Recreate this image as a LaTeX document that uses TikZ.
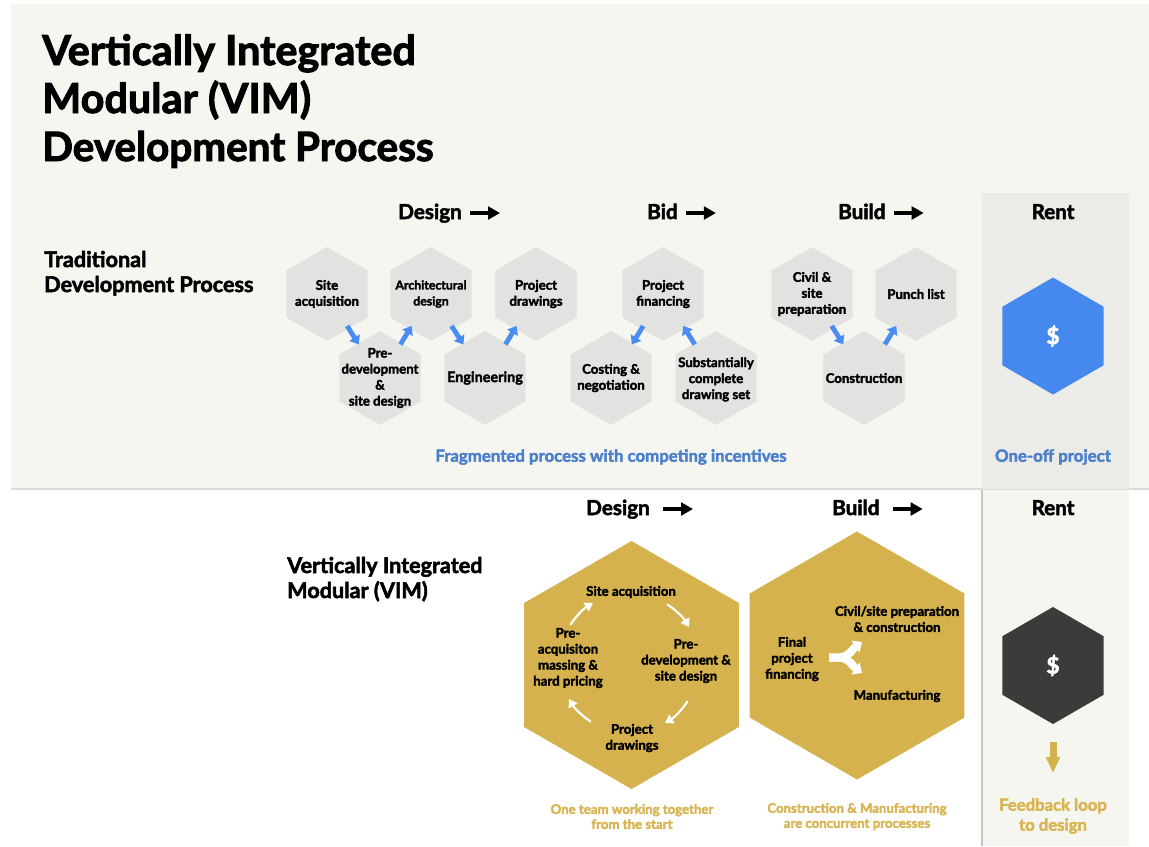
\documentclass[tikz,border=0pt]{standalone}
\usepackage{fontspec}
\setmainfont{Lato}[BoldFeatures={FakeBold=2.4}]
\usetikzlibrary{shapes.geometric,arrows.meta,calc}
\definecolor{panel}{HTML}{F5F6F0}
\definecolor{renttop}{HTML}{EBEBE7}
\definecolor{hexgrey}{HTML}{E2E2E0}
\definecolor{hexblue}{HTML}{4689EE}
\definecolor{arrblue}{HTML}{4A8CF2}
\definecolor{txtblue}{HTML}{4C7FCC}
\definecolor{gold}{HTML}{D6B24E}
\definecolor{goldtxt}{HTML}{D8B552}
\definecolor{darkhex}{HTML}{3C3B39}
\definecolor{sepline}{HTML}{DADAD6}
\begin{document}
\begin{tikzpicture}[x=0.75pt,y=-0.75pt,
  hexsmall/.style={regular polygon,regular polygon sides=6,shape border rotate=30,
    minimum size=70.5pt,inner sep=0pt,fill=hexgrey,draw=none},
  hexbig/.style={regular polygon,regular polygon sides=6,shape border rotate=30,
    minimum size=186pt,inner sep=0pt,fill=gold,draw=none},
  hexrent/.style={regular polygon,regular polygon sides=6,shape border rotate=30,
    minimum size=87.75pt,inner sep=0pt,draw=none,text=white,
    font=\fontsize{17}{18}\selectfont\bfseries},
  hlab/.style={inner sep=0pt,align=center,font=\fontsize{9.9}{12}\selectfont\bfseries},
  glab/.style={inner sep=0pt,align=center,font=\fontsize{9.9}{12}\selectfont\bfseries},
  hdr/.style={inner sep=0pt,anchor=base west,font=\fontsize{15.5}{18}\selectfont\bfseries},
  sect/.style={inner sep=0pt,anchor=base west,font=\fontsize{16.2}{19}\selectfont\bfseries},
  ttl/.style={inner sep=0pt,anchor=base west,font=\fontsize{31}{36}\selectfont\bfseries},
  hdrarrow/.style={line width=3.6pt,-{Triangle[length=9pt,width=9.5pt]}},
  bluearrow/.style={draw=arrblue,line width=3.6pt,-{Triangle[length=6pt,width=9pt]}},
  cycarrow/.style={draw=white,line width=1.6pt,-{Triangle[length=6pt,width=7.5pt]}},
  forkarrow/.style={draw=white,line width=6pt,-{Triangle[length=6pt,width=10.5pt]}},
  bluecap/.style={inner sep=0pt,align=center,text=txtblue,font=\fontsize{12.6}{14}\selectfont\bfseries},
  goldcap/.style={inner sep=0pt,align=center,text=goldtxt,font=\fontsize{9.9}{11.25}\selectfont\bfseries},
  goldcapb/.style={inner sep=0pt,align=center,text=goldtxt,font=\fontsize{12.5}{15}\selectfont\bfseries}
]
\useasboundingbox (0,0) rectangle (1149,846);
% backgrounds
\fill[white] (0,0) rectangle (1149,846);
\fill[panel] (11,4) rectangle (1149,489);
\draw[sepline,line width=1pt] (11,489) -- (1149,489);
\fill[renttop] (982,193) rectangle (1129,489);
\fill[panel] (982,490) rectangle (1129,846);
\draw[gray!45,line width=0.9pt] (982,490) -- (982,846);

% title
\node[ttl] (t1) at (42,65) {Vertically Integrated};
\node[ttl] (t2) at (42,113) {Modular (VIM)};
\node[ttl,font=\fontsize{30.3}{36}\selectfont\bfseries] (t3) at (42,161) {Development Process};

% traditional section
\node[sect] (trad1) at (44,267) {Traditional};
\node[sect] (trad2) at (44,292) {Development Process};

\node[hdr] (hdes) at (398,219) {Design};
\node[hdr] (hbid) at (647,219) {Bid};
\node[hdr] (hbld) at (838,219) {Build};
\node[hdr,anchor=base] (hrent) at (1053,219) {Rent};
\draw[hdrarrow] ([shift={(8,-6)}]hdes.base east) -- ++(30,0);
\draw[hdrarrow] ([shift={(8,-6)}]hbid.base east) -- ++(30,0);
\draw[hdrarrow] ([shift={(8,-6)}]hbld.base east) -- ++(30,0);

% grey hexagons
\node[hexsmall] (sa) at (327,294) {};
\node[hexsmall] (pd) at (380,378) {};
\node[hexsmall] (ad) at (431,294) {};
\node[hexsmall] (en) at (485,378) {};
\node[hexsmall] (pj) at (536,294) {};
\node[hexsmall] (pf) at (663,294) {};
\node[hexsmall] (cn) at (611,378) {};
\node[hexsmall] (sc) at (716,378) {};
\node[hexsmall] (cv) at (812,294) {};
\node[hexsmall] (pl) at (916,294) {};
\node[hexsmall] (co) at (864,378) {};

\node[hlab] at (sa) {Site\\acquisition};
\node[hlab] at (pd) {Pre-\\development\\\&\\site design};
\node[hlab,font=\fontsize{9.2}{12}\selectfont\bfseries] at (ad) {Architectural\\design};
\node[hlab,font=\fontsize{10.8}{12}\selectfont\bfseries] at (en) {Engineering};
\node[hlab] at (pj) {Project\\drawings};
\node[hlab] at (pf) {Project\\financing};
\node[hlab] at (cn) {Costing \&\\negotiation};
\node[hlab] at ([yshift=-1]sc) {Substantially\\complete\\drawing set};
\node[hlab] at (cv) {Civil \&\\site\\preparation};
\node[hlab] at (pl) {Punch list};
\node[hlab] at (co) {Construction};

\draw[bluearrow] ($(sa)!0.38!(pd)$) -- ($(sa)!0.6!(pd)$);
\draw[bluearrow] ($(pd)!0.4!(ad)$) -- ($(pd)!0.62!(ad)$);
\draw[bluearrow] ($(ad)!0.38!(en)$) -- ($(ad)!0.6!(en)$);
\draw[bluearrow] ($(en)!0.4!(pj)$) -- ($(en)!0.62!(pj)$);
\draw[bluearrow] ($(pf)!0.38!(cn)$) -- ($(pf)!0.6!(cn)$);
\draw[bluearrow] ($(sc)!0.4!(pf)$) -- ($(sc)!0.62!(pf)$);
\draw[bluearrow] ($(cv)!0.38!(co)$) -- ($(cv)!0.6!(co)$);
\draw[bluearrow] ($(co)!0.4!(pl)$) -- ($(co)!0.62!(pl)$);

\node[bluecap] (frag) at (611,457) {Fragmented process with competing incentives};
\node[hexrent,fill=hexblue] (rent1) at (1053,336) {\$};
\node[bluecap] (oneoff) at (1053,457) {One-off project};

% VIM section
\node[hdr] (vdes) at (586,515) {Design};
\node[hdr] (vbld) at (832,515) {Build};
\node[hdr,anchor=base] (vrent) at (1053,515) {Rent};
\draw[hdrarrow] ([shift={(13,-6)}]vdes.base east) -- ++(30,0);
\draw[hdrarrow] ([shift={(13,-6)}]vbld.base east) -- ++(30,0);

\node[sect] (vim1) at (287,573) {Vertically Integrated};
\node[sect] (vim2) at (287,598) {Modular (VIM)};

\node[hexbig] (gd) at (631.5,665) {};
\node[hexbig] (gb) at (857,655.5) {};

\coordinate (cyc) at (629,663);
\node[glab] (c1) at (631,592) {Site acquisition};
\node[glab] (c2) at (686,661) {Pre-\\development \&\\site design};
\node[glab] (c3) at (632,738) {Project\\drawings};
\node[glab] (c4) at (568,658) {Pre-\\acquisiton\\massing \&\\hard pricing};
\draw[cycarrow] ([shift={(57:52.5pt)}]cyc) arc[start angle=57,end angle=31,radius=52.5pt];
\draw[cycarrow] ([shift={(-33:52.5pt)}]cyc) arc[start angle=-33,end angle=-59,radius=52.5pt];
\draw[cycarrow] ([shift={(-123:52.5pt)}]cyc) arc[start angle=-123,end angle=-149,radius=52.5pt];
\draw[cycarrow] ([shift={(147:52.5pt)}]cyc) arc[start angle=147,end angle=121,radius=52.5pt];

\node[glab] (b1) at (897,619) {Civil/site preparation\\\& construction};
\node[glab] (b2) at (792,659) {Final\\project\\financing};
\node[glab] (b3) at (897,696) {Manufacturing};
\coordinate (fk) at (829,657.5);
\draw[forkarrow] (fk) -- ++(9,0) to[out=0,in=-145] (862,642);
\draw[forkarrow] (fk) -- ++(9,0) to[out=0,in=145] (862,673);

\node[goldcap] (cap1) at (632,816.5) {One team working together\\from the start};
\node[goldcap] (cap2) at (857,816.5) {Construction \& Manufacturing\\are concurrent processes};

\node[hexrent,fill=darkhex] (rent2) at (1053,665.5) {\$};
\coordinate (fb) at (1053,742);
\draw[draw=gold,line width=5.25pt,-{Triangle[length=12pt,width=10pt]}] (fb) -- ++(0,31);
\node[goldcapb] (feed) at (1053,816) {Feedback loop\\to design};
\end{tikzpicture}
\end{document}
